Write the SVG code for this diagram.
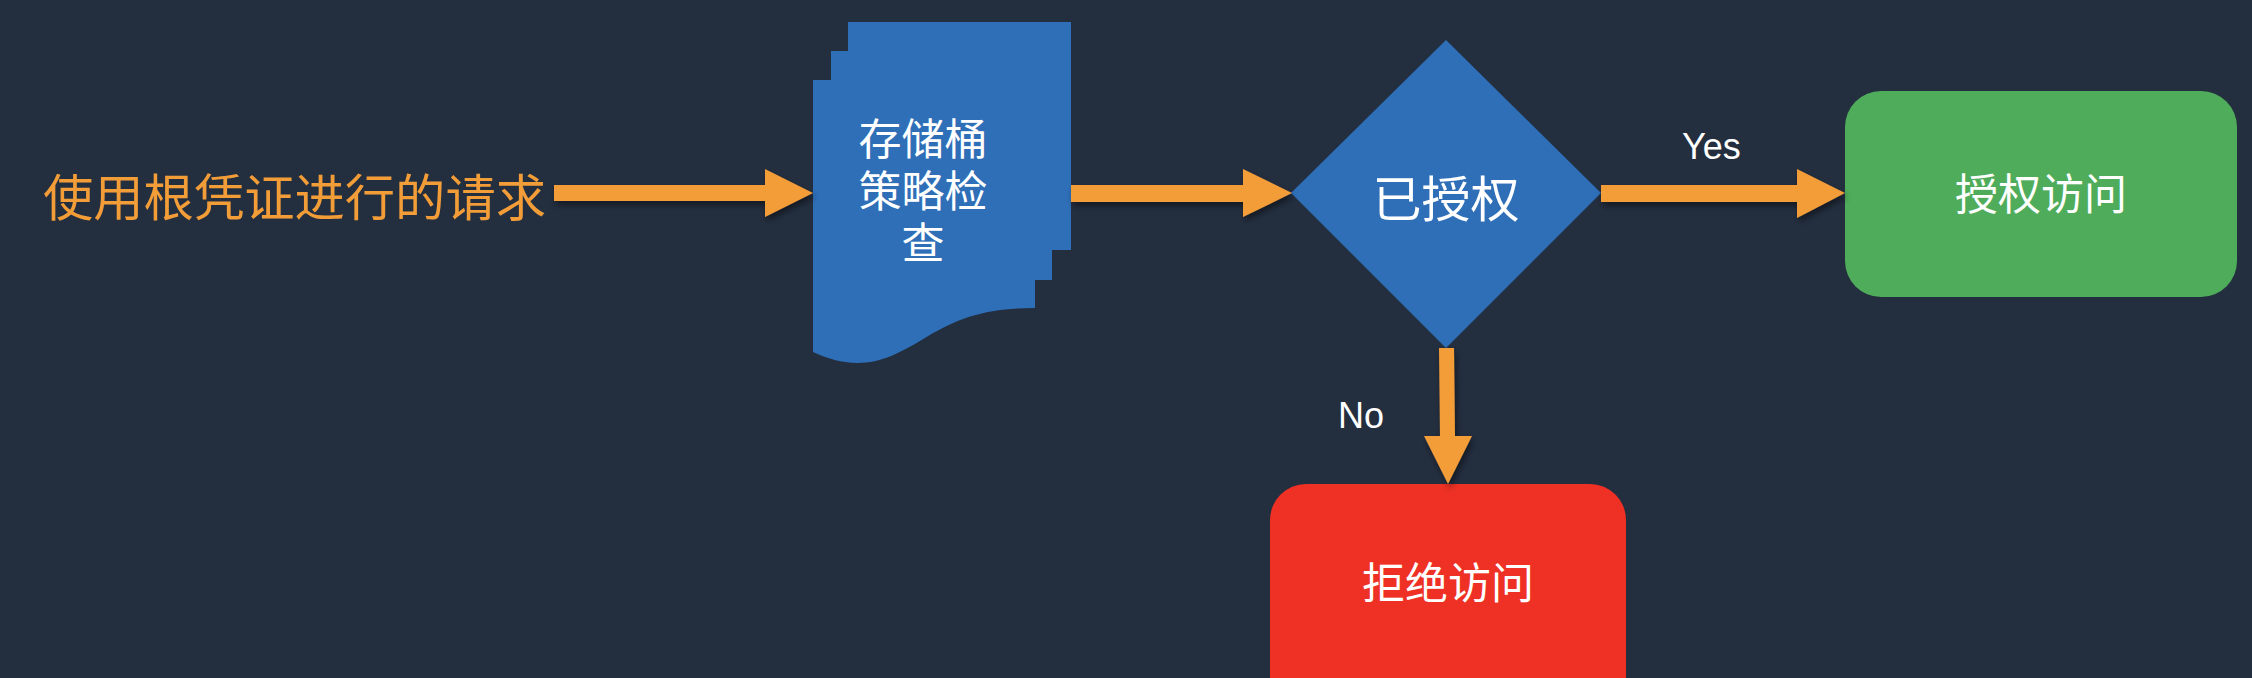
<svg xmlns="http://www.w3.org/2000/svg" width="2252" height="678" viewBox="0 0 2252 678">
<defs>
<style>
.cjk{font-family:"Noto Sans CJK SC","Liberation Sans",sans-serif;}
.lat{font-family:"Liberation Sans",Arial,sans-serif;fill:#ffffff;font-size:36px;}
.wt{fill:#ffffff;text-anchor:middle;}
.arrow{fill:#F29D38;filter:url(#sh);}
.blue{fill:#2E6FB8;}
</style>
<filter id="sh" x="-20%" y="-50%" width="140%" height="200%">
<feDropShadow dx="2" dy="4" stdDeviation="3" flood-color="#000000" flood-opacity="0.45"/>
</filter>
</defs>
<rect width="2252" height="678" fill="#232E3F"/>

<g id="start">
<text class="cjk" x="43" y="216" font-size="50" fill="#F29D38" textLength="503" lengthAdjust="spacingAndGlyphs">使用根凭证进行的请求</text>
</g>

<g id="policy-check">
<rect class="blue" x="848" y="22" width="223" height="228"/>
<rect class="blue" x="831" y="51" width="221" height="229"/>
<path class="blue" d="M813,80 H1035 V308 C990,308 960,316 925,338 C895,356 875,366 845,362 C832,360 822,356 813,352 Z"/>
<text class="cjk wt" font-size="43"><tspan x="923" y="155">存储桶</tspan><tspan x="923" y="207">策略检</tspan><tspan x="923" y="259">查</tspan></text>
</g>

<g id="authorized">
<polygon class="blue" points="1446,40 1601,193 1446,348 1291,193"/>
<text class="cjk wt" x="1446" y="217" font-size="49">已授权</text>
</g>

<g id="allow">
<rect x="1845" y="91" width="392" height="206" rx="36" ry="36" fill="#4FAC5B"/>
<text class="cjk wt" x="2041" y="210" font-size="43">授权访问</text>
</g>

<g id="deny">
<rect x="1270" y="484" width="356" height="240" rx="36" ry="36" fill="#EE3124"/>
<text class="cjk wt" x="1448" y="599" font-size="43">拒绝访问</text>
</g>

<g id="connectors">
<polygon class="arrow" points="554,185 765,185 765,169 813,193 765,217 765,201 554,201"/>
<polygon class="arrow" points="1071,185 1243,185 1243,169 1292,193 1243,217 1243,202 1071,202"/>
<polygon class="arrow" points="1601,185 1797,185 1797,169 1845,193 1797,218 1797,202 1601,202"/>
<polygon class="arrow" points="1439,348 1454,348 1455,436 1472,436 1448,484 1424,436 1440,436"/>
<text class="lat" x="1682" y="159">Yes</text>
<text class="lat" x="1338" y="428">No</text>
</g>
</svg>
